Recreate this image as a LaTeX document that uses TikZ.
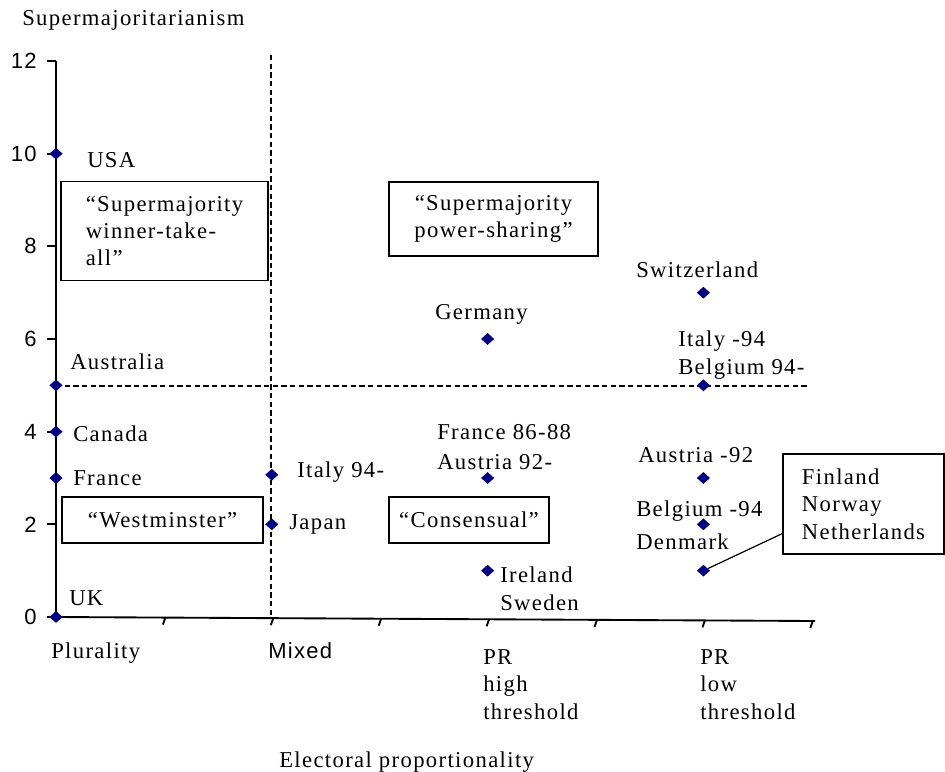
\documentclass[tikz,border=0pt]{standalone}
\usepackage{fontspec}
\setmainfont[LetterSpace=6]{Liberation Serif}
\setsansfont[LetterSpace=6]{Liberation Sans}
\usetikzlibrary{shapes.geometric}
\definecolor{navy}{RGB}{0,0,128}

\begin{document}
\begin{tikzpicture}[x=0.75pt, y=-0.75pt,
    axisline/.style={line width=1.4pt},
    guide/.style={line width=1.2pt, dash pattern=on 4pt off 2.5pt},
    pt/.style={diamond, fill=navy, inner sep=0pt, minimum width=10pt, minimum height=9pt},
    lab/.style={font=\fontsize{17}{20.5}\selectfont, inner sep=0pt, anchor=base west, align=left},
    num/.style={font=\sffamily\fontsize{16.5}{20}\selectfont, inner sep=0pt, anchor=east},
    quad/.style={draw, line width=1pt, font=\fontsize{17}{20.5}\selectfont, inner sep=0pt}]
    \useasboundingbox (0,0) rectangle (945,771);

    % axes
    \draw[axisline] (56,61) -- (56,617) -- (815,621);
    \foreach \v in {0,2,...,12} {
        \pgfmathsetmacro\yy{617-46.33*\v}
        \draw[axisline] (47,\yy) -- (56,\yy);
        \node[num] (n\v) at (37,\yy) {\v};
    }
    \foreach \k in {1,...,7}
        \draw[axisline] ({56+107.9*\k+1.5},{617+0.57*\k}) -- ++(-2.5,7);

    % quadrant borders
    \draw[guide] (271,55) -- (271,617);
    \draw[guide] (56,386) -- (808,386);

    % countries
    \begin{scope}[shift={(56,617)}, x=161.85pt, y=34.75pt]
        \node[pt] (usa) at (0,10) {};
        \node[pt] (aus) at (0,5) {};
        \node[pt] (can) at (0,4) {};
        \node[pt] (fra) at (0,3) {};
        \node[pt] (uk) at (0,0) {};
        \node[pt] (ita) at (1,3.07) {};
        \node[pt] (jpn) at (1,2) {};
        \node[pt] (ger) at (2,6) {};
        \node[pt] (fraaut) at (2,3) {};
        \node[pt] (ire) at (2,1) {};
        \node[pt] (swi) at (3,7) {};
        \node[pt] (itabel) at (3,5) {};
        \node[pt] (aut) at (3,3) {};
        \node[pt] (bel) at (3,2) {};
        \node[pt] (dk) at (3,1) {};
    \end{scope}

    % multi-line labels sit on the baseline of their last line
    \node[lab] (usa-l) at (87,167) {USA};
    \node[lab] (aus-l) at (70,369) {Australia};
    \node[lab] (can-l) at (73,441) {Canada};
    \node[lab] (fra-l) at (73,485) {France};
    \node[lab] (uk-l) at (69,605) {UK};
    \node[lab] (ita-l) at (297,477) {Italy 94-};
    \node[lab] (jpn-l) at (289,529) {Japan};
    \node[lab] (ger-l) at (435,319) {Germany};
    \node[lab] (fra2-l) at (437,439) {France 86-88};
    \node[lab] (aut2-l) at (437,469) {Austria 92-};
    \node[lab] (ire-l) at (500,610) {Ireland\\Sweden};
    \node[lab] (swi-l) at (636,277) {Switzerland};
    \node[lab] (itabel-l) at (678,374) {Italy -94\\Belgium 94-};
    \node[lab] (aut-l) at (638,462) {Austria -92};
    \node[lab] (bel-l) at (636,516) {Belgium -94};
    \node[lab] (dk-l) at (636,549) {Denmark};

    % quadrant names
    \node[quad, align=left, minimum width=155.25pt, minimum height=74.25pt] (wta) at (164.5,231)
        {“Supermajority\\winner-take-\\all”};
    \node[quad, align=center, minimum width=156.75pt, minimum height=55.5pt] (share) at (493.5,219)
        {“Supermajority\\power-sharing”};
    \node[quad, minimum width=150.75pt, minimum height=34.5pt] (west) at (162.5,520) {“Westminster”};
    \node[quad, minimum width=120pt, minimum height=34.5pt] (cons) at (469,520) {“Consensual”};
    \node[quad, align=left, minimum width=120.75pt, minimum height=75pt] (nordic) at (863.5,504)
        {Finland\\Norway\\Netherlands};
    \draw[line width=0.9pt] (dk) -- (nordic.200);

    % axis titles
    \node[lab] (plur) at (51,658) {Plurality};
    \node[lab, font=\sffamily\fontsize{16.5}{20}\selectfont] (mix) at (268,658) {Mixed};
    \node[lab] (prhigh) at (483,719) {PR\\high\\threshold};
    \node[lab] (prlow) at (700,719) {PR\\low\\threshold};
    \node[lab] (xtitle) at (279,767) {Electoral proportionality};
    \node[lab] (ytitle) at (22,25) {Supermajoritarianism};
\end{tikzpicture}
\end{document}
